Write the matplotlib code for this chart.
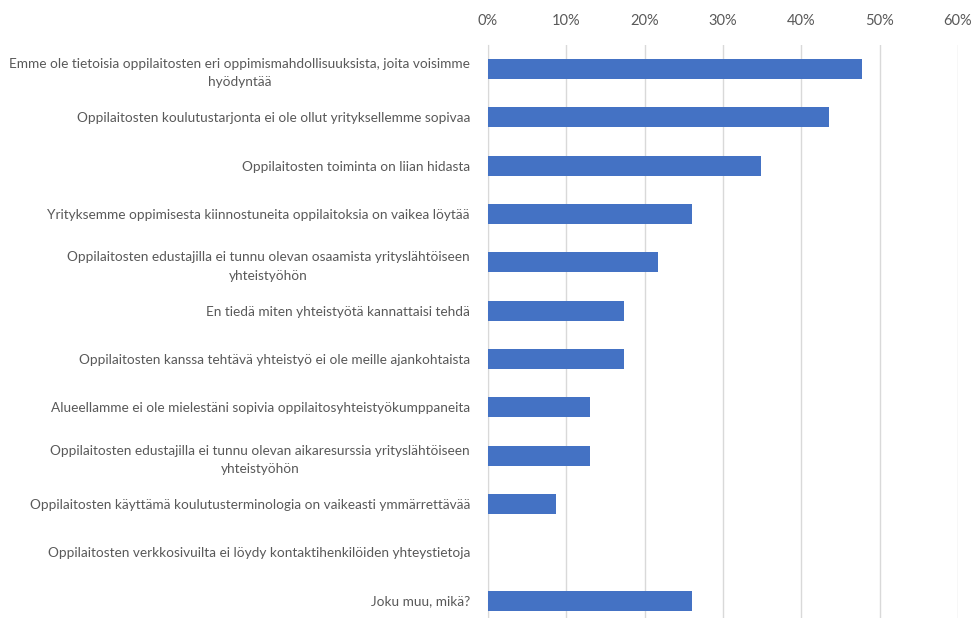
import matplotlib.pyplot as plt
from matplotlib.ticker import PercentFormatter

labels = [
    "Emme ole tietoisia oppilaitosten eri oppimismahdollisuuksista, joita voisimme\nhyödyntää",
    "Oppilaitosten koulutustarjonta ei ole ollut yrityksellemme sopivaa",
    "Oppilaitosten toiminta on liian hidasta",
    "Yrityksemme oppimisesta kiinnostuneita oppilaitoksia on vaikea löytää",
    "Oppilaitosten edustajilla ei tunnu olevan osaamista yrityslähtöiseen\nyhteistyöhön",
    "En tiedä miten yhteistyötä kannattaisi tehdä",
    "Oppilaitosten kanssa tehtävä yhteistyö ei ole meille ajankohtaista",
    "Alueellamme ei ole mielestäni sopivia oppilaitosyhteistyökumppaneita",
    "Oppilaitosten edustajilla ei tunnu olevan aikaresurssia yrityslähtöiseen\nyhteistyöhön",
    "Oppilaitosten käyttämä koulutusterminologia on vaikeasti ymmärrettävää",
    "Oppilaitosten verkkosivuilta ei löydy kontaktihenkilöiden yhteystietoja",
    "Joku muu, mikä?",
]
values = [47.8, 43.5, 34.8, 26.1, 21.7, 17.4, 17.4, 13.0, 13.0, 8.7, 0.0, 26.1]

plt.rcParams['font.family'] = ['Lato', 'DejaVu Sans']
grey = '#595959'

fig = plt.figure(figsize=(9.73, 6.18), dpi=100)
ax = fig.add_axes([0.5015, 0.0, 0.4831, 0.9275])

pos = list(range(len(labels)))
ax.barh(pos, values, height=0.41, color='#4472C4', zorder=3)

ax.set_xlim(0, 60)
ax.set_ylim(11.36, -0.5)
ax.set_xticks(range(0, 61, 10))
ax.xaxis.set_major_formatter(PercentFormatter(decimals=0))
ax.xaxis.tick_top()
ax.set_yticks(pos)
ax.set_yticklabels(labels, multialignment='center', linespacing=1.65)
ax.tick_params(axis='both', length=0, colors=grey, labelsize=9.8)
ax.tick_params(axis='x', labelsize=10.5, pad=12)
ax.tick_params(axis='y', pad=13)
ax.grid(axis='x', color='#D9D9D9', linewidth=1, zorder=0)
for s in ['top', 'right', 'bottom']:
    ax.spines[s].set_visible(False)
ax.spines['left'].set_color('#D9D9D9')

fig.savefig('out.png', dpi=100)
